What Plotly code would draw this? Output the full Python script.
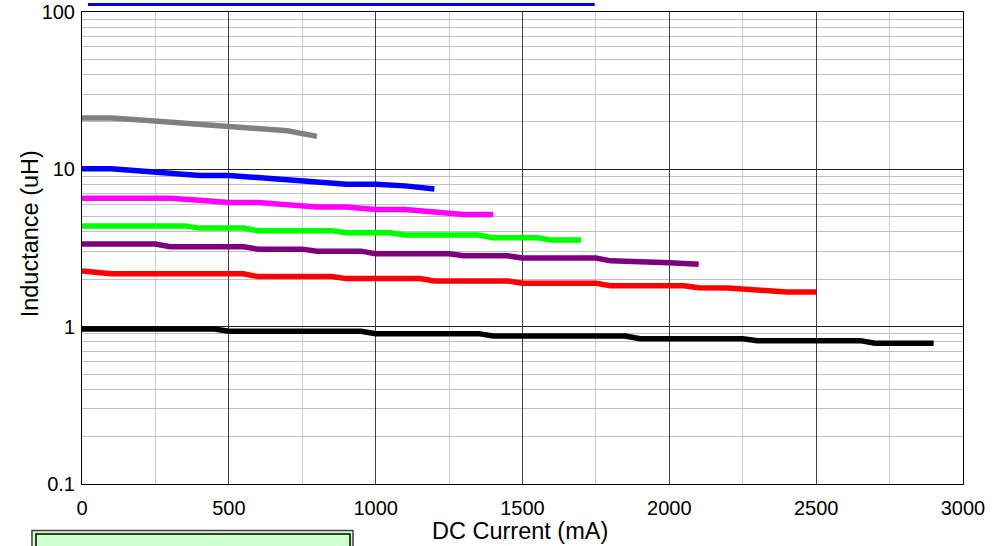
import plotly.graph_objects as go

# ---- data (DC current in mA, inductance in uH) ----
gray_x = [0, 100, 200, 300, 400, 500, 600, 700, 800]
gray_y = [21.2, 21.2, 20.6, 20.0, 19.3, 18.7, 18.15, 17.6, 16.2]

blue_x = [0, 100, 200, 300, 400, 500, 600, 700, 800, 900, 1000, 1100, 1200]
blue_y = [10.1, 10.1, 9.77, 9.45, 9.13, 9.13, 8.91, 8.65, 8.32, 8.04, 8.04, 7.85, 7.51]

magenta_x = [0, 100, 200, 300, 400, 500, 600, 700, 800, 900, 1000, 1100, 1200, 1300, 1400]
magenta_y = [6.56, 6.56, 6.56, 6.56, 6.37, 6.16, 6.16, 5.92, 5.77, 5.77, 5.56, 5.56, 5.32, 5.17, 5.17]

green_x = [0, 350, 400, 550, 600, 850, 900, 1050, 1100, 1350, 1400, 1550, 1600, 1700]
green_y = [4.37, 4.37, 4.23, 4.23, 4.07, 4.07, 3.95, 3.95, 3.82, 3.82, 3.67, 3.67, 3.55, 3.55]

purple_x = [0, 250, 300, 550, 600, 750, 800, 950, 1000, 1250, 1300, 1450, 1500, 1750, 1800, 1900, 2000, 2100]
purple_y = [3.35, 3.35, 3.22, 3.22, 3.11, 3.11, 3.02, 3.02, 2.91, 2.91, 2.82, 2.82, 2.73, 2.73, 2.62, 2.60, 2.55, 2.49]

red_x = [0, 100, 550, 600, 850, 900, 1150, 1200, 1450, 1500, 1750, 1800, 2050, 2100, 2200, 2300, 2400, 2500]
red_y = [2.26, 2.17, 2.17, 2.08, 2.08, 2.02, 2.02, 1.95, 1.95, 1.89, 1.89, 1.82, 1.82, 1.77, 1.76, 1.71, 1.66, 1.66]

black_x = [0, 450, 500, 950, 1000, 1350, 1400, 1850, 1900, 2250, 2300, 2650, 2700, 2900]
black_y = [0.967, 0.967, 0.935, 0.935, 0.903, 0.903, 0.873, 0.873, 0.839, 0.839, 0.815, 0.815, 0.785, 0.785]

x_ticks = [0, 500, 1000, 1500, 2000, 2500, 3000]
y_ticks = [0.1, 1, 10, 100]
y_labels = ["0.1", "1", "10", "100"]
y_minor = [m * d for d in (0.1, 1, 10) for m in range(2, 10)]

series = [
    (gray_x, gray_y, "#808080"),
    (blue_x, blue_y, "#0000ff"),
    (magenta_x, magenta_y, "#ff00ff"),
    (green_x, green_y, "#00ff00"),
    (purple_x, purple_y, "#800080"),
    (red_x, red_y, "#ff0000"),
    (black_x, black_y, "#000000"),
]

FONT = "Arial, Liberation Sans, sans-serif"

fig = go.Figure()
for xs, ys, c in series:
    fig.add_trace(go.Scatter(x=xs, y=ys, mode="lines",
                             line=dict(color=c, width=5.5),
                             showlegend=False, hoverinfo="skip"))

fig.update_layout(
    width=1005, height=546,
    margin=dict(l=82, r=42, t=11.5, b=62, autoexpand=False),
    paper_bgcolor="white", plot_bgcolor="white",
    font=dict(family=FONT, size=20, color="black"),
    showlegend=False,
)

fig.update_xaxes(
    range=[0, 3000], tickvals=x_ticks, ticks="", ticklabelstandoff=6,
    showgrid=True, gridcolor="#404040", gridwidth=1,
    minor=dict(dtick=250, tick0=0, showgrid=True, gridcolor="#cccccc", gridwidth=1),
    showline=True, linecolor="black", linewidth=1, mirror=True,
    zeroline=False, automargin=False,
    tickfont=dict(family=FONT, size=20),
)

fig.update_yaxes(
    type="log", range=[-1, 2], tickvals=y_ticks, ticktext=y_labels, ticks="",
    ticklabelstandoff=2,
    showgrid=True, gridcolor="#202020", gridwidth=1,
    minor=dict(tickvals=y_minor, showgrid=True, gridcolor="#c0c0c0", gridwidth=1),
    showline=True, linecolor="black", linewidth=1, mirror=True,
    zeroline=False, automargin=False,
    tickfont=dict(family=FONT, size=20),
)

# axis titles
fig.add_annotation(text="DC Current (mA)", xref="paper", yref="paper",
                   x=0.4977, y=-0.0995, xanchor="center", yanchor="middle",
                   showarrow=False, font=dict(family=FONT, size=23.5))
fig.add_annotation(text="Inductance (uH)", xref="paper", yref="paper",
                   x=-0.059, y=0.529, xanchor="center", yanchor="middle",
                   textangle=-90, showarrow=False, font=dict(family=FONT, size=23.5))

# decorative line above the plot and the legend panel below it
fig.add_shape(type="line", xref="paper", yref="paper",
              x0=0.0068, x1=0.582, y0=1.0159, y1=1.0159,
              line=dict(color="#0000ff", width=3))
fig.add_shape(type="rect", xref="paper", yref="paper",
              x0=-0.0568, x1=0.3076, y0=-0.20, y1=-0.0984,
              fillcolor="#ccffcc", line=dict(color="#404040", width=1.5))
fig.add_shape(type="rect", xref="paper", yref="paper",
              x0=-0.0522, x1=0.3042, y0=-0.20, y1=-0.1058,
              fillcolor="#ccffcc", line=dict(color="#000000", width=1.5))

fig.write_html("out.html",
               config={"displayModeBar": False},
               post_script="document.body.style.margin='0';document.body.style.overflow='hidden';")
